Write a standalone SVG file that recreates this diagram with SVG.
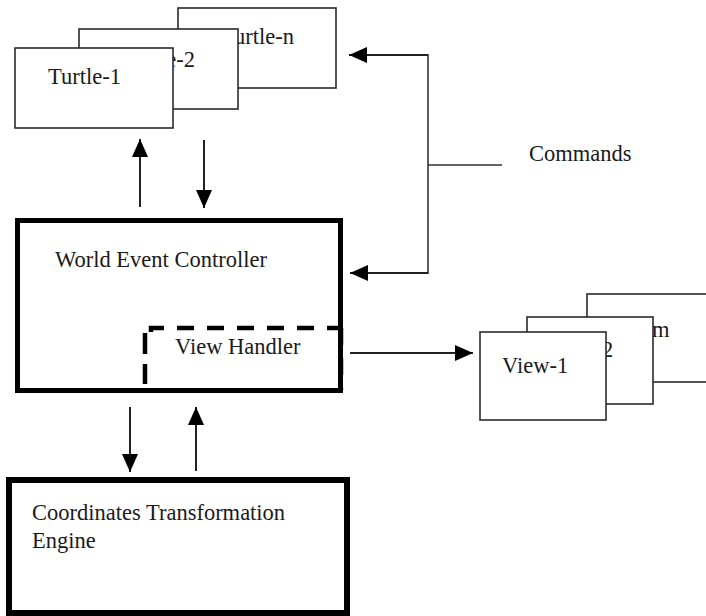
<svg xmlns="http://www.w3.org/2000/svg" width="706" height="616" viewBox="0 0 706 616">
<style>
  text { font-family: "Liberation Serif", "Times New Roman", serif; font-size: 22.5px; fill: #1a1a1a; }
  .box { fill: #ffffff; stroke: #2a2a2a; stroke-width: 1.6; }
  .thick { fill: #ffffff; stroke: #000000; }
  .conn { fill: none; stroke: #222222; stroke-width: 2; }
  .thin { fill: none; stroke: #333333; stroke-width: 1.6; }
  .dash { fill: none; stroke: #000000; stroke-width: 4.5; stroke-dasharray: 17 13; }
</style>
<defs>
  <marker id="ah" markerUnits="userSpaceOnUse" markerWidth="18" markerHeight="16" refX="18" refY="8" orient="auto">
    <path d="M0,0 L18,8 L0,16 z" fill="#000000"/>
  </marker>
</defs>
<rect width="706" height="616" fill="#ffffff"/>

<g id="turtle-n">
  <rect class="box" x="178" y="8" width="158" height="80"/>
  <text x="221" y="44">Turtle-n</text>
</g>
<g id="turtle-2">
  <rect class="box" x="79" y="29" width="159" height="80"/>
  <text x="122" y="67">Turtle-2</text>
</g>
<g id="turtle-1">
  <rect class="box" x="15" y="48" width="158" height="80"/>
  <text x="48" y="84">Turtle-1</text>
</g>

<g id="view-m">
  <rect class="box" x="587" y="294" width="130" height="88"/>
  <text x="597" y="337">View-m</text>
</g>
<g id="view-2">
  <rect class="box" x="527" y="317" width="126" height="87"/>
  <text x="547" y="357">View-2</text>
</g>
<g id="view-1">
  <rect class="box" x="480" y="332" width="126" height="88"/>
  <text x="502" y="373">View-1</text>
</g>

<g id="world-event-controller">
  <rect class="thick" x="17.5" y="220.5" width="323" height="170" stroke-width="5"/>
  <text x="55" y="267">World Event Controller</text>
</g>
<g id="view-handler">
  <path class="dash" d="M151,332 L151,328 L341,328"/>
  <line class="dash" x1="145" y1="333" x2="145" y2="384" style="stroke-dasharray:21 10"/>
  <line class="dash" x1="341" y1="328" x2="341" y2="390"/>
  <text x="175" y="354">View Handler</text>
</g>

<g id="coordinates-transformation-engine">
  <rect class="thick" x="9" y="480" width="338" height="133" stroke-width="6"/>
  <text x="32" y="520">Coordinates Transformation</text>
  <text x="32" y="548">Engine</text>
</g>

<g id="commands-label">
  <text x="529" y="161">Commands</text>
</g>

<g id="connectors">
  <line class="conn" x1="140" y1="207" x2="140" y2="139" marker-end="url(#ah)"/>
  <line class="conn" x1="204" y1="140" x2="204" y2="208" marker-end="url(#ah)"/>
  <line class="conn" x1="428" y1="55" x2="349" y2="55" marker-end="url(#ah)"/>
  <line class="thin" x1="428" y1="54" x2="428" y2="274"/>
  <line class="conn" x1="428" y1="273" x2="350" y2="273" marker-end="url(#ah)"/>
  <line class="thin" x1="428" y1="165" x2="502" y2="165"/>
  <line class="conn" x1="350" y1="353" x2="473" y2="353" marker-end="url(#ah)"/>
  <line class="conn" x1="130" y1="407" x2="130" y2="472" marker-end="url(#ah)"/>
  <line class="conn" x1="196" y1="471" x2="196" y2="407" marker-end="url(#ah)"/>
</g>
</svg>
